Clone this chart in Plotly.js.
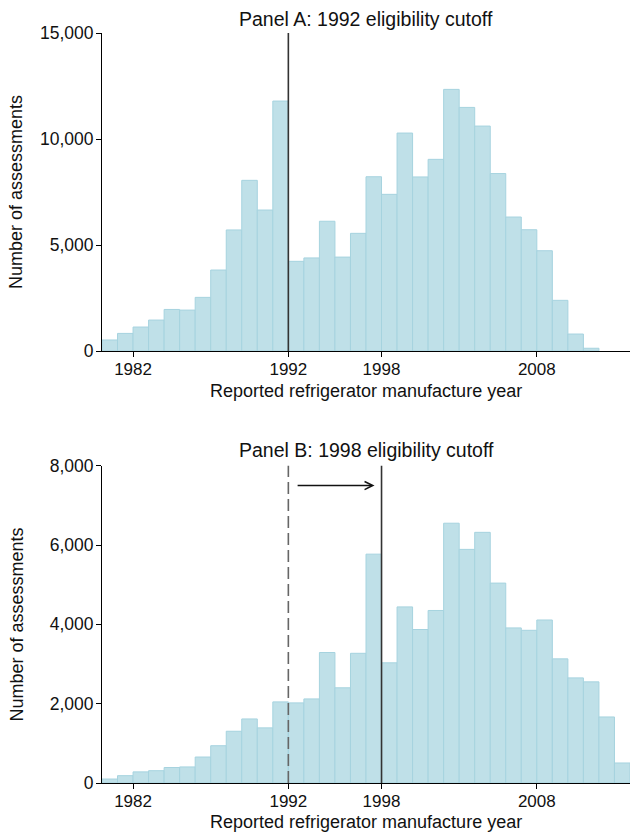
<!DOCTYPE html>
<html>
<head>
<meta charset="utf-8">
<script src="https://cdn.plot.ly/plotly-3.0.1.min.js"></script>
<style>
  html, body { margin: 0; padding: 0; background: #fff; }
  #chart { width: 630px; height: 832px; }
</style>
</head>
<body>
<div id="chart"></div>
<script>
// Bin start years (each bar covers one manufacture year)
const yearsA = [1980, 1981, 1982, 1983, 1984, 1985, 1986, 1987, 1988, 1989,
                1990, 1991, 1992, 1993, 1994, 1995, 1996, 1997, 1998, 1999,
                2000, 2001, 2002, 2003, 2004, 2005, 2006, 2007, 2008, 2009,
                2010, 2011];
const countsA = [520, 830, 1130, 1460, 1960, 1930, 2530, 3820, 5710, 8050,
                 6650, 11790, 4230, 4390, 6120, 4430, 5550, 8220, 7390, 10280,
                 8210, 9040, 12340, 11490, 10610, 8370, 6320, 5720, 4730, 2390,
                 800, 130];

const yearsB = [1980, 1981, 1982, 1983, 1984, 1985, 1986, 1987, 1988, 1989,
                1990, 1991, 1992, 1993, 1994, 1995, 1996, 1997, 1998, 1999,
                2000, 2001, 2002, 2003, 2004, 2005, 2006, 2007, 2008, 2009,
                2010, 2011, 2012, 2013];
const countsB = [100, 185, 280, 310, 390, 405, 655, 940, 1305, 1615,
                 1390, 2045, 2020, 2120, 3290, 2400, 3270, 5770, 3030, 4440,
                 3870, 4350, 6550, 5890, 6320, 5040, 3910, 3850, 4110, 3130,
                 2650, 2550, 1665, 505];

const tickYears = [1982, 1992, 1998, 2008];
const cutoffA = 1992;
const cutoffB = 1998;
const priorCutoff = 1992;

const panelTitles = ['Panel A: 1992 eligibility cutoff', 'Panel B: 1998 eligibility cutoff'];
const xTitle = 'Reported refrigerator manufacture year';
const yTitle = 'Number of assessments';

// page geometry
const W = 630, H = 832;
const M = { l: 102, r: 0, t: 33, b: 49 };
const plotW = W - M.l - M.r, plotH = H - M.t - M.b;
const px = v => (v - M.l) / plotW;          // pixel x -> paper x
const py = v => (H - M.b - v) / plotH;      // pixel y -> paper y

const FONT = 'Liberation Sans, Arial, sans-serif';
const barFill = '#bfe0e8';
const barEdge = '#a6d3df';

const bars = (x, y, xa, ya) => ({
  type: 'bar', x: x, y: y, xaxis: xa, yaxis: ya,
  offset: 0, width: 1,
  marker: { color: barFill, line: { color: barEdge, width: 1 } },
  hoverinfo: 'x+y', showlegend: false
});

const data = [
  bars(yearsA, countsA, 'x', 'y'),
  bars(yearsB, countsB, 'x2', 'y2')
];

const xCommon = {
  range: [1980, 2014], tickvals: tickYears, ticktext: tickYears.map(String),
  ticks: 'outside', ticklen: 5, tickwidth: 1, tickcolor: '#000',
  showline: true, linecolor: '#000', linewidth: 1,
  showgrid: false, zeroline: false, ticklabelstandoff: -2,
  tickfont: { family: FONT, size: 17, color: '#111' },
  fixedrange: true
};
const yCommon = {
  ticks: 'outside', ticklen: 5, tickwidth: 1, tickcolor: '#000',
  showline: true, linecolor: '#000', linewidth: 1,
  showgrid: false, zeroline: false, tickformat: ',d', ticklabelstandoff: -1,
  tickfont: { family: FONT, size: 17.5, color: '#111' },
  fixedrange: true
};

const domA = [py(351), 1];
const domB = [0, py(465.7)];

const vline = (x, xa, ya, color, dash) => ({
  type: 'line', xref: xa, yref: ya + ' domain', x0: x, x1: x, y0: 0, y1: 1,
  line: { color: color, width: 1.6, dash: dash }
});

const textAnn = (text, x, y, size, angle) => ({
  text: text, xref: 'paper', yref: 'paper', x: px(x), y: py(y),
  xanchor: 'center', yanchor: 'middle', showarrow: false, textangle: angle || 0,
  font: { family: FONT, size: size, color: '#111' }
});

const cx = M.l + plotW / 2;

const layout = {
  width: W, height: H, margin: M,
  paper_bgcolor: '#fff', plot_bgcolor: '#fff',
  bargap: 0, showlegend: false,
  xaxis: Object.assign({}, xCommon, { domain: [0, 1], anchor: 'y' }),
  yaxis: Object.assign({}, yCommon, { domain: domA, anchor: 'x', range: [0, 15000], dtick: 5000 }),
  xaxis2: Object.assign({}, xCommon, { domain: [0, 1], anchor: 'y2' }),
  yaxis2: Object.assign({}, yCommon, { domain: domB, anchor: 'x2', range: [0, 8000], dtick: 2000 }),
  shapes: [
    vline(cutoffA, 'x', 'y', '#333', 'solid'),
    vline(priorCutoff, 'x2', 'y2', '#666', '12px,5px'),
    vline(cutoffB, 'x2', 'y2', '#333', 'solid')
  ],
  annotations: [
    textAnn(panelTitles[0], cx, 19, 19.5),
    textAnn(panelTitles[1], cx, 450, 19.5),
    textAnn(xTitle, cx, 391, 18),
    textAnn(xTitle, cx, 822, 18),
    textAnn(yTitle, 16, 192, 18, -90),
    textAnn(yTitle, 16, 624.5, 18, -90),
    {
      // shift of the cutoff from 1992 to 1998
      xref: 'x2', yref: 'y2', axref: 'x2', ayref: 'y2',
      x: cutoffB - 0.45, y: 7500, ax: priorCutoff + 0.5, ay: 7500,
      text: '', showarrow: true, arrowhead: 5, arrowsize: 1.15,
      arrowwidth: 1.4, arrowcolor: '#111', standoff: 0
    }
  ]
};

Plotly.newPlot('chart', data, layout, { staticPlot: true, displayModeBar: false });
</script>
</body>
</html>
